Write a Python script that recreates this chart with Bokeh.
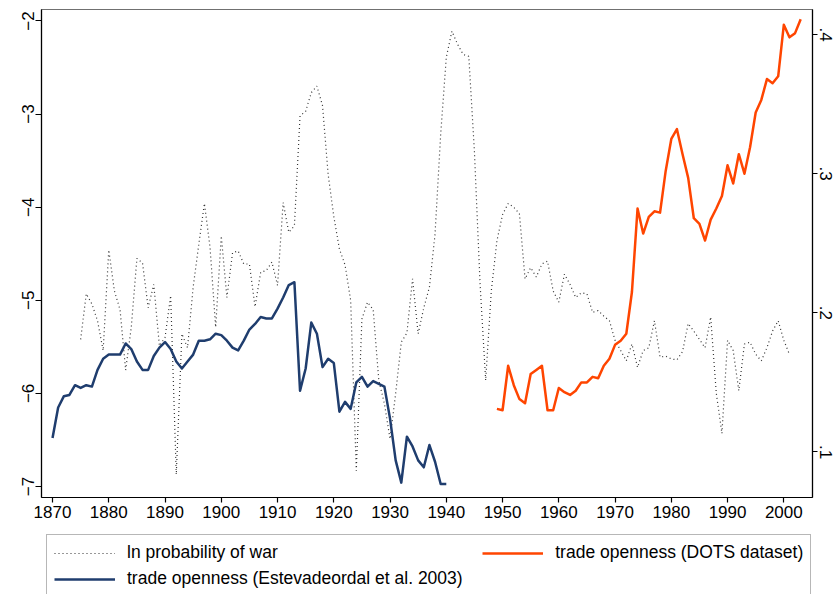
from bokeh.plotting import figure
from bokeh.layouts import column
from bokeh.models import Range1d, LinearAxis, FixedTicker, Legend, LegendItem
from bokeh.embed import file_html
from bokeh.resources import INLINE

# ---- data ----
war_years = list(range(1875, 2002))
war_lnprob = [
    -5.42, -4.93, -5.04, -5.22, -5.54, -4.46, -4.90, -5.10, -5.75, -5.29,   # 1875-1884
    -4.55, -4.60, -5.08, -4.83, -5.49, -5.40, -4.95, -6.87, -5.36, -5.51,   # 1885-1894
    -4.86, -4.40, -3.96, -4.43, -5.29, -4.31, -4.97, -4.49, -4.47, -4.61,   # 1895-1904
    -4.61, -5.07, -4.70, -4.68, -4.59, -4.84, -3.95, -4.27, -4.20, -3.02,   # 1905-1914
    -2.97, -2.77, -2.70, -2.91, -3.65, -4.10, -4.45, -4.62, -5.00, -6.83,   # 1915-1924
    -5.20, -5.02, -5.10, -5.86, -6.11, -6.49, -6.00, -5.45, -5.35, -4.77,   # 1925-1934
    -5.36, -5.08, -4.86, -4.29, -3.22, -2.39, -2.11, -2.25, -2.36, -2.38,   # 1935-1944
    -3.40, -4.82, -5.86, -4.90, -4.36, -4.08, -3.96, -4.00, -4.07, -4.77,   # 1945-1954
    -4.65, -4.75, -4.61, -4.58, -4.90, -5.02, -4.72, -4.83, -4.97, -4.92,   # 1955-1964
    -4.93, -5.13, -5.11, -5.17, -5.22, -5.43, -5.54, -5.65, -5.47, -5.72,   # 1965-1974
    -5.54, -5.51, -5.22, -5.61, -5.60, -5.63, -5.64, -5.55, -5.25, -5.33,   # 1975-1984
    -5.42, -5.51, -5.18, -6.00, -6.43, -5.43, -5.54, -5.97, -5.47, -5.45,   # 1985-1994
    -5.58, -5.65, -5.51, -5.33, -5.22, -5.43, -5.58,                        # 1995-2001
]

est_years = list(range(1870, 1941))
est_open = [
    0.110, 0.132, 0.140, 0.141, 0.148, 0.146, 0.148, 0.147, 0.159, 0.167,   # 1870-1879
    0.170, 0.170, 0.170, 0.178, 0.174, 0.165, 0.159, 0.159, 0.169, 0.175,   # 1880-1889
    0.179, 0.174, 0.165, 0.160, 0.165, 0.170, 0.180, 0.180, 0.181, 0.185,   # 1890-1899
    0.184, 0.180, 0.175, 0.173, 0.180, 0.188, 0.192, 0.197, 0.196, 0.196,   # 1900-1909
    0.203, 0.211, 0.220, 0.222, 0.144, 0.160, 0.193, 0.185, 0.161, 0.167,   # 1910-1919
    0.164, 0.129, 0.136, 0.131, 0.150, 0.154, 0.147, 0.151, 0.149, 0.147,   # 1920-1929
    0.124, 0.094, 0.078, 0.111, 0.104, 0.094, 0.089, 0.105, 0.093, 0.077,   # 1930-1939
    0.077,                                                                  # 1940
]

dots_years = list(range(1949, 2004))
dots_open = [
    0.131, 0.130, 0.162, 0.148, 0.138, 0.135, 0.156, 0.159, 0.162, 0.130,   # 1949-1958
    0.130, 0.146, 0.143, 0.141, 0.144, 0.150, 0.150, 0.154, 0.153, 0.162,   # 1959-1968
    0.167, 0.177, 0.180, 0.185, 0.215, 0.275, 0.257, 0.269, 0.273, 0.272,   # 1969-1978
    0.302, 0.325, 0.332, 0.314, 0.297, 0.268, 0.264, 0.252, 0.267, 0.275,   # 1979-1988
    0.284, 0.306, 0.293, 0.314, 0.300, 0.319, 0.344, 0.353, 0.368, 0.365,   # 1989-1998
    0.370, 0.407, 0.398, 0.401, 0.411,                                      # 1999-2003
]

x_ticks = list(range(1870, 2001, 10))
left_ticks = [-7, -6, -5, -4, -3, -2]
left_tick_labels = ["\u22127", "\u22126", "\u22125", "\u22124", "\u22123", "\u22122"]
right_ticks = [0.1, 0.2, 0.3, 0.4]
right_tick_labels = [".1", ".2", ".3", ".4"]

legend_labels = ["ln probability of war",
                 "trade openness (Estevadeordal et al. 2003)",
                 "trade openness (DOTS dataset)"]

FONT = "Liberation Sans"
WAR_STYLE = dict(line_color="#333333", line_width=1.2, line_dash="1 3")
EST_STYLE = dict(line_color="#1f3d6e", line_width=2.5, line_join="round")
DOTS_STYLE = dict(line_color="#ff4500", line_width=2.5, line_join="round")

# ---- main chart ----
p = figure(width=837, height=530, output_backend="svg", toolbar_location=None,
           x_range=Range1d(1868.04, 2005.1), y_range=Range1d(-7.118, -1.877),
           min_border_left=41, min_border_right=25, min_border_top=9,
           min_border_bottom=33)
p.extra_y_ranges = {"open": Range1d(0.0673, 0.418)}
p.xgrid.visible = False
p.ygrid.visible = False
p.outline_line_color = "#707070"
p.outline_line_width = 1.2
p.background_fill_color = "white"
p.border_fill_color = "white"

right_axis = LinearAxis(y_range_name="open")
p.add_layout(right_axis, "right")


def style(ax, tick_out, standoff):
    ax.axis_line_color = "black"
    ax.axis_line_width = 1.2
    ax.major_tick_line_color = "black"
    ax.major_tick_line_width = 1.2
    ax.major_tick_in = 0
    ax.major_tick_out = tick_out
    ax.minor_tick_line_color = None
    ax.major_label_text_font = FONT
    ax.major_label_text_font_size = "17px"
    ax.major_label_text_color = "black"
    ax.major_label_standoff = standoff


xax = p.xaxis[0]
style(xax, 5, 3)
xax.ticker = FixedTicker(ticks=x_ticks)

lax = p.yaxis[0]
style(lax, 6, 1)
lax.ticker = FixedTicker(ticks=left_ticks)
lax.major_label_overrides = dict(zip(left_ticks, left_tick_labels))
lax.major_label_orientation = "vertical"

style(right_axis, 5, 2)
right_axis.ticker = FixedTicker(ticks=right_ticks)
right_axis.major_label_overrides = dict(zip(right_ticks, right_tick_labels))
right_axis.major_label_orientation = "vertical"

p.line(war_years, war_lnprob, **WAR_STYLE)
p.line(est_years, est_open, y_range_name="open", **EST_STYLE)
p.line(dots_years, dots_open, y_range_name="open", **DOTS_STYLE)

# ---- legend strip below the chart ----
lg = figure(width=837, height=64, output_backend="svg", toolbar_location=None,
            x_range=Range1d(0, 1), y_range=Range1d(0, 1),
            x_axis_type=None, y_axis_type=None,
            min_border_left=0, min_border_right=0, min_border_top=0,
            min_border_bottom=0)
lg.xgrid.visible = False
lg.ygrid.visible = False
lg.outline_line_color = None
lg.background_fill_color = "white"
lg.border_fill_color = "white"

# legend key lines: kept outside the visible range so only the legend shows them
k_war = lg.line([-3, -2], [-3, -2], **WAR_STYLE)
k_est = lg.line([-3, -2], [-3, -2], **EST_STYLE)
k_dots = lg.line([-3, -2], [-3, -2], **DOTS_STYLE)

legend = Legend(
    items=[LegendItem(label=legend_labels[0], renderers=[k_war]),
           LegendItem(label=legend_labels[1] + "   ", renderers=[k_est]),
           LegendItem(label=legend_labels[2], renderers=[k_dots])],
    location=(5, -3), orientation="vertical", nrows=2,
    border_line_color="#707070", border_line_width=1.2,
    background_fill_color="white", background_fill_alpha=1.0,
    label_text_font=FONT, label_text_font_size="17.5px", label_text_color="black",
    glyph_width=61, glyph_height=20, label_standoff=12, label_height=20,
    spacing=5, padding=7, margin=0,
)
lg.add_layout(legend, "center")

open("out.html", "w").write(file_html(column(p, lg, spacing=0), INLINE))
